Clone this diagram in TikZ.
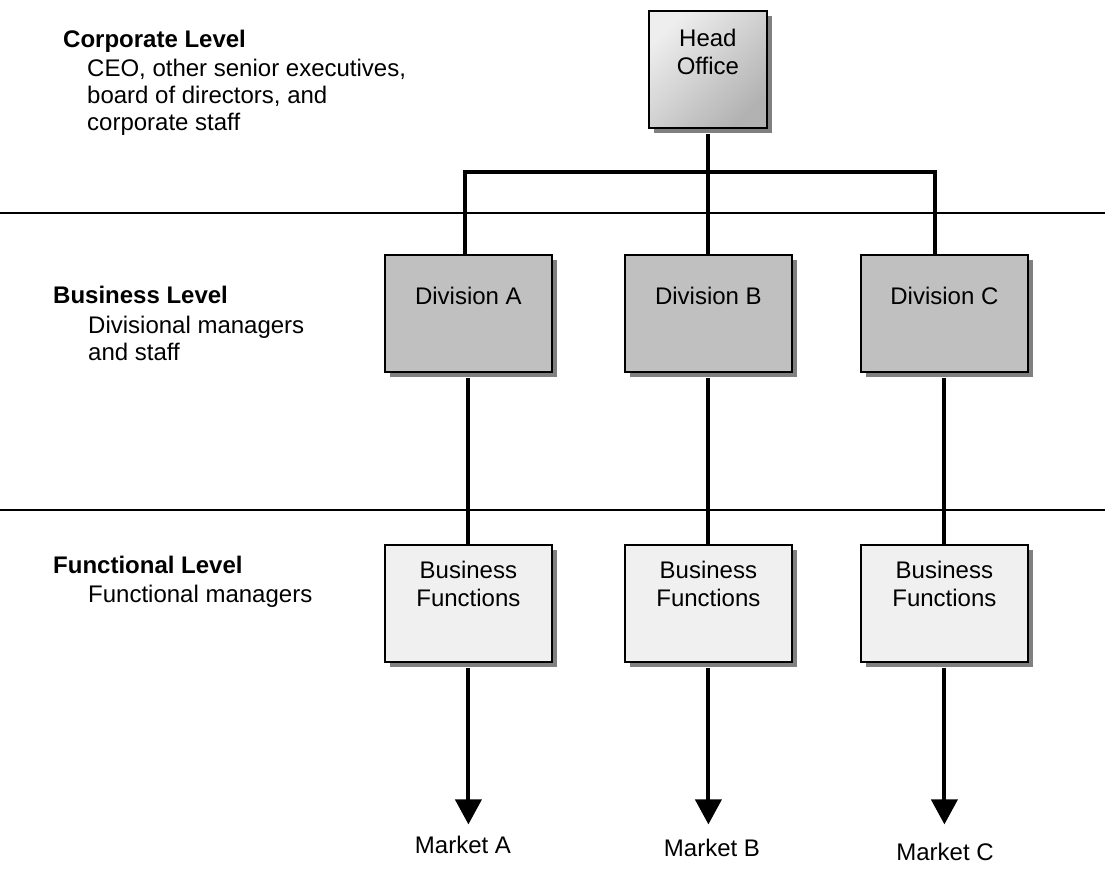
\documentclass[tikz,border=0pt]{standalone}
\usepackage{fontspec}
\setmainfont{Liberation Sans}
\usetikzlibrary{arrows.meta,shadows}
\definecolor{shadowgray}{HTML}{808080}
\definecolor{divfill}{HTML}{C0C0C0}
\definecolor{funcfill}{HTML}{F0F0F0}
\definecolor{hqlight}{HTML}{EEEEEE}
\definecolor{hqdark}{HTML}{B2B2B2}
\newcommand{\bigtext}{\fontsize{24}{27}\selectfont}
\begin{document}
\begin{tikzpicture}[x=1pt,y=-1pt,
  % multi-line text nodes are placed by the baseline of their last line
  txt/.style={font=\bigtext, inner sep=0pt, align=left, anchor=base west},
  lvl/.style={txt, font=\bigtext\bfseries},
  card/.style={draw=black, line width=1.8pt, inner sep=0pt, anchor=north west,
    minimum width=167pt, minimum height=117pt,
    drop shadow={shadow xshift=5pt, shadow yshift=-5pt, fill=shadowgray, opacity=1, draw=none}},
  divbox/.style={card, fill=divfill},
  funcbox/.style={card, fill=funcfill},
  hqbox/.style={card, minimum width=118pt, minimum height=117pt,
    top color=hqlight, bottom color=hqdark, shading angle=45},
  cardtext/.style={font=\fontsize{24}{28}\selectfont, align=center, anchor=north, inner sep=0pt},
  conn/.style={line width=4pt},
  flow/.style={line width=4pt, -{Triangle[width=26pt,length=25pt]}},
  sepline/.style={line width=1.4pt},
  market/.style={font=\bigtext, inner sep=0pt, anchor=base}
]
\useasboundingbox (0,0) rectangle (1105,874);

% level separators
\draw[sepline] (0,213) -- (1105,213);
\draw[sepline] (0,510) -- (1105,510);

% level descriptions
\node[lvl] (corpT) at (63,48) {Corporate Level};
\node[txt] (corpD) at (87,131) {CEO, other senior executives,\\board of directors, and\\corporate staff};
\node[lvl] (busT) at (53,304) {Business Level};
\node[txt] (busD) at (88,360) {Divisional managers\\and staff};
\node[lvl] (funT) at (53,573) {Functional Level};
\node[txt] (funD) at (88,602) {Functional managers};

% boxes
\node[hqbox, label={[cardtext, yshift=-19pt]north:Head\\Office}] (hq) at (648,10) {};
\node[divbox, label={[cardtext, yshift=-33pt]north:Division A}] (divA) at (384,254) {};
\node[divbox, label={[cardtext, yshift=-33pt]north:Division B}] (divB) at (624,254) {};
\node[divbox, label={[cardtext, yshift=-33pt]north:Division C}] (divC) at (860,254) {};
\node[funcbox, label={[cardtext, yshift=-17pt]north:Business\\Functions}] (funA) at (384,544) {};
\node[funcbox, label={[cardtext, yshift=-17pt]north:Business\\Functions}] (funB) at (624,544) {};
\node[funcbox, label={[cardtext, yshift=-17pt]north:Business\\Functions}] (funC) at (860,544) {};

% markets
\node[market] (mktA) at (463,853) {Market A};
\node[market] (mktB) at (712,856) {Market B};
\node[market] (mktC) at (945,860) {Market C};

% head office to divisions
\coordinate (barA) at (465,172);
\coordinate (barC) at (935,172);
\draw[conn] (hq.south) ++(0,5) -- (hq.south |- divB.north);
\draw[conn] (barA |- divA.north) -- (barA) -- (barC) -- (barC |- divC.north);

% divisions to business functions
\draw[conn, shorten <=5pt] (divA.south) -- (divA.south |- funA.north);
\draw[conn, shorten <=5pt] (divB.south) -- (divB.south |- funB.north);
\draw[conn, shorten <=5pt] (divC.south) -- (divC.south |- funC.north);

% business functions to markets
\draw[flow, shorten <=5pt, shorten >=11pt] (funA.south) -- (funA.south |- mktA.north);
\draw[flow, shorten <=5pt, shorten >=11pt] (funB.south) -- (funB.south |- mktA.north);
\draw[flow, shorten <=5pt, shorten >=11pt] (funC.south) -- (funC.south |- mktA.north);
\end{tikzpicture}
\end{document}
